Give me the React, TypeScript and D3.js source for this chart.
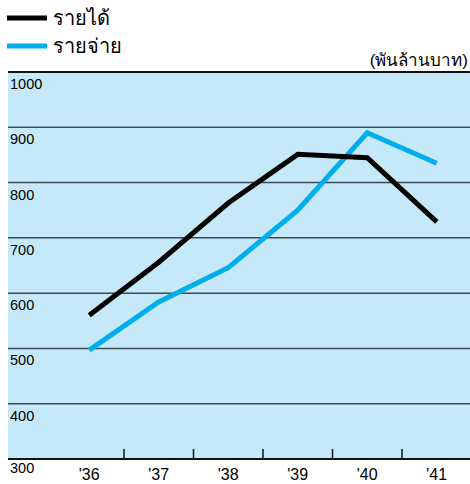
import * as d3 from "d3";

const years = ["'36", "'37", "'38", "'39", "'40", "'41"];
const income = [560, 656, 763, 851, 845, 729];
const expense = [497, 584, 646, 750, 890, 835];
const yTicks = [300, 400, 500, 600, 700, 800, 900, 1000];
const seriesNames = ["รายได้", "รายจ่าย"];
const unitLabel = "(พันล้านบาท)";

const W = 470, H = 484;
const plotLeft = 8, plotRight = 470, plotTop = 72, plotBottom = 459;
const font = "'Liberation Sans', Arial, Helvetica, sans-serif";

const x = d3.scaleBand<string>().domain(years).range([54.5, 471.5]);
const y = d3.scaleLinear().domain([300, 1000]).range([plotBottom, plotTop]);

const line = d3.line<number>()
  .x((_v, i) => (x(years[i]) as number) + x.bandwidth() / 2)
  .y((v) => y(v));

export default function App() {
  const colors = ["#000000", "#00AEEF"];
  return (
    <svg width={W} height={H} style={{ position: "absolute", left: 0, top: 0 }} fontFamily={font}>
      <rect x={0} y={0} width={W} height={H} fill="#fff" />
      {/* legend */}
      {seriesNames.map((n, i) => (
        <g key={n} transform={`translate(0,${18 + i * 28})`}>
          <line x1={7} x2={47} y1={0} y2={0} stroke={colors[i]} strokeWidth={5} />
          <text x={53} y={7} fontSize={20} fill="#000">{n}</text>
        </g>
      ))}
      <text x={468} y={66} fontSize={17} textAnchor="end" fill="#000">{unitLabel}</text>
      {/* plot background */}
      <rect x={plotLeft} y={plotTop} width={plotRight - plotLeft} height={plotBottom - plotTop} fill="#C6E9F9" />
      {yTicks.map((t) => (
        <g key={t}>
          <line x1={plotLeft} x2={plotRight} y1={y(t)} y2={y(t)} stroke={t === 300 || t === 1000 ? "#111" : "#3a4a52"} strokeWidth={t === 300 || t === 1000 ? 2 : 1.5} />
          <text x={10} y={y(t) + (t === 300 ? 14 : 17)} fontSize={14.5} fill="#000">{t}</text>
        </g>
      ))}
      {years.slice(1).map((yr) => (
        <line key={yr} x1={x(yr)} x2={x(yr)} y1={plotBottom - 10} y2={plotBottom} stroke="#111" strokeWidth={1.5} />
      ))}
      {years.map((yr) => (
        <text key={yr} x={(x(yr) as number) + x.bandwidth() / 2} y={480} fontSize={16} textAnchor="middle" fill="#000">{yr}</text>
      ))}
      <path d={line(expense) || ""} fill="none" stroke={colors[1]} strokeWidth={5} strokeLinejoin="miter" />
      <path d={line(income) || ""} fill="none" stroke={colors[0]} strokeWidth={5} strokeLinejoin="miter" />
    </svg>
  );
}
